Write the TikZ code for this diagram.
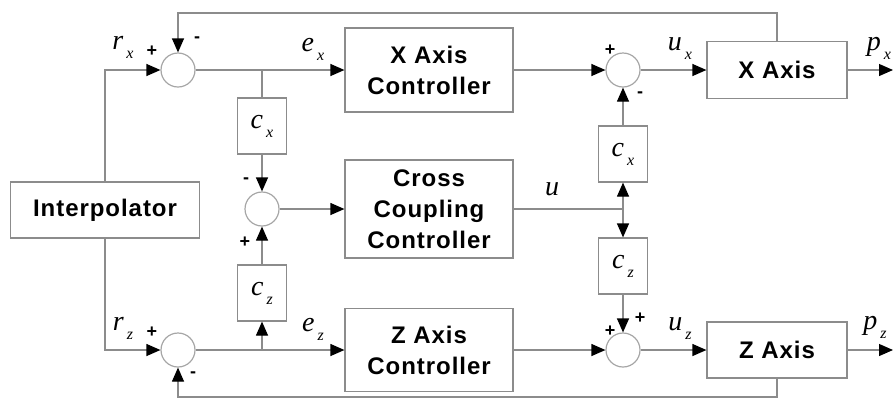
\documentclass[tikz,border=0pt]{standalone}
\usepackage{fontspec}
\setmainfont{Liberation Serif}
\newfontfamily\boxfont[LetterSpace=4]{Liberation Sans}
\newfontfamily\signfont{Liberation Sans}
\usetikzlibrary{arrows.meta}
% signal label: big italic letter, lowered italic index
\newcommand{\sigl}[2]{{\fontsize{14}{14}\selectfont\textit{#1}}\hspace{1.5pt}\raisebox{-4.5pt}{\footnotesize\textit{#2}}}

\begin{document}
\begin{tikzpicture}[
  x=0.5pt, y=-0.5pt,
  line/.style={draw=black!45, line width=0.6pt},
  box/.style={draw=black!45, line width=0.6pt, align=center, inner sep=0pt,
    font=\boxfont\bfseries\fontsize{12}{15.5}\selectfont},
  gain/.style={draw=black!45, line width=0.6pt, minimum width=24.5pt, minimum height=28pt, inner sep=0pt},
  sum/.style={draw=black!35, line width=0.6pt, circle, minimum size=17pt, inner sep=0pt},
  arr/.style={line, -{Triangle[length=7pt,width=6pt,color=black]}},
  sgn/.style={font=\signfont\bfseries\small, inner sep=0pt},
  lab/.style={inner sep=0pt}
]
\useasboundingbox (0,0) rectangle (893,403);

% blocks
\node[box, minimum width=94.5pt, minimum height=28pt] (interp) at (105,210) {Interpolator};
\node[box, minimum width=84pt, minimum height=42pt] (xctrl) at (429,70) {X Axis\\Controller};
\node[box, minimum width=84pt, minimum height=49pt] (ccc) at (429,209) {Cross\\Coupling\\Controller};
\node[box, minimum width=84pt, minimum height=41.5pt] (zctrl) at (429,350) {Z Axis\\Controller};
\node[box, minimum width=70pt, minimum height=28.5pt] (xaxis) at (777,70) {X Axis};
\node[box, minimum width=70pt, minimum height=28pt] (zaxis) at (777,350) {Z Axis};

% gains
\node[gain] (cxl) at (262,126) {\sigl{c}{x}};
\node[gain] (czl) at (262,293) {\sigl{c}{z}};
\node[gain] (cxr) at (623,154) {\sigl{c}{x}};
\node[gain] (czr) at (623,266) {\sigl{c}{z}};

% summing points
\node[sum] (sx) at (178,70) {};
\node[sum] (sz) at (178,350) {};
\node[sum] (sm) at (262,209) {};
\node[sum] (sxr) at (623,70) {};
\node[sum] (szr) at (623,350) {};

% branch points and free ends
\coordinate (jx) at (262,70);
\coordinate (jz) at (262,350);
\coordinate (ju) at (623,209);
\coordinate (fbx) at (178,13);
\coordinate (fbz) at (178,397);
\coordinate (pxend) at (893,70);
\coordinate (pzend) at (893,350);

% signal labels
\node[lab] (rx) at (123,47) {\sigl{r}{x}};
\node[lab] (rz) at (123,328) {\sigl{r}{z}};
\node[lab] (ex) at (313,49) {\sigl{e}{x}};
\node[lab] (ez) at (313,329) {\sigl{e}{z}};
\node[lab] (ux) at (680,49) {\sigl{u}{x}};
\node[lab] (uz) at (680,329) {\sigl{u}{z}};
\node[lab] (px) at (879,48) {\sigl{p}{x}};
\node[lab] (pz) at (875,327) {\sigl{p}{z}};
\node[lab] (uc) at (552,189) {\fontsize{14}{14}\selectfont\textit{u}};

% signs
\node[sgn] at (152,51) {+};
\node[sgn] at (197,40) {-};
\node[sgn] at (152,332) {+};
\node[sgn] at (193,375) {-};
\node[sgn] at (246,181) {-};
\node[sgn] at (245,242) {+};
\node[sgn] at (610,50) {+};
\node[sgn] at (640,95) {-};
\node[sgn] at (610,331) {+};
\node[sgn] at (640,318) {+};

% connections
\draw[arr] (interp.north) |- (sx.west);
\draw[arr] (interp.south) |- (sz.west);
\draw[arr] (xaxis.north) |- (fbx) -- (sx.north);
\draw[arr] (zaxis.south) |- (fbz) -- (sz.south);
\draw[arr] (sx.east) -- (xctrl.west);
\draw[arr] (sz.east) -- (zctrl.west);
\draw[line] (jx) -- (cxl.north);
\draw[arr] (cxl.south) -- (sm.north);
\draw[arr] (jz) -- (czl.south);
\draw[arr] (czl.north) -- (sm.south);
\draw[arr] (sm.east) -- (ccc.west);
\draw[line] (ccc.east) -- (ju);
\draw[arr] (ju) -- (cxr.south);
\draw[arr] (ju) -- (czr.north);
\draw[arr] (cxr.north) -- (sxr.south);
\draw[arr] (czr.south) -- (szr.north);
\draw[arr] (xctrl.east) -- (sxr.west);
\draw[arr] (zctrl.east) -- (szr.west);
\draw[arr] (sxr.east) -- (xaxis.west);
\draw[arr] (szr.east) -- (zaxis.west);
\draw[arr] (xaxis.east) -- (pxend);
\draw[arr] (zaxis.east) -- (pzend);
\end{tikzpicture}
\end{document}
